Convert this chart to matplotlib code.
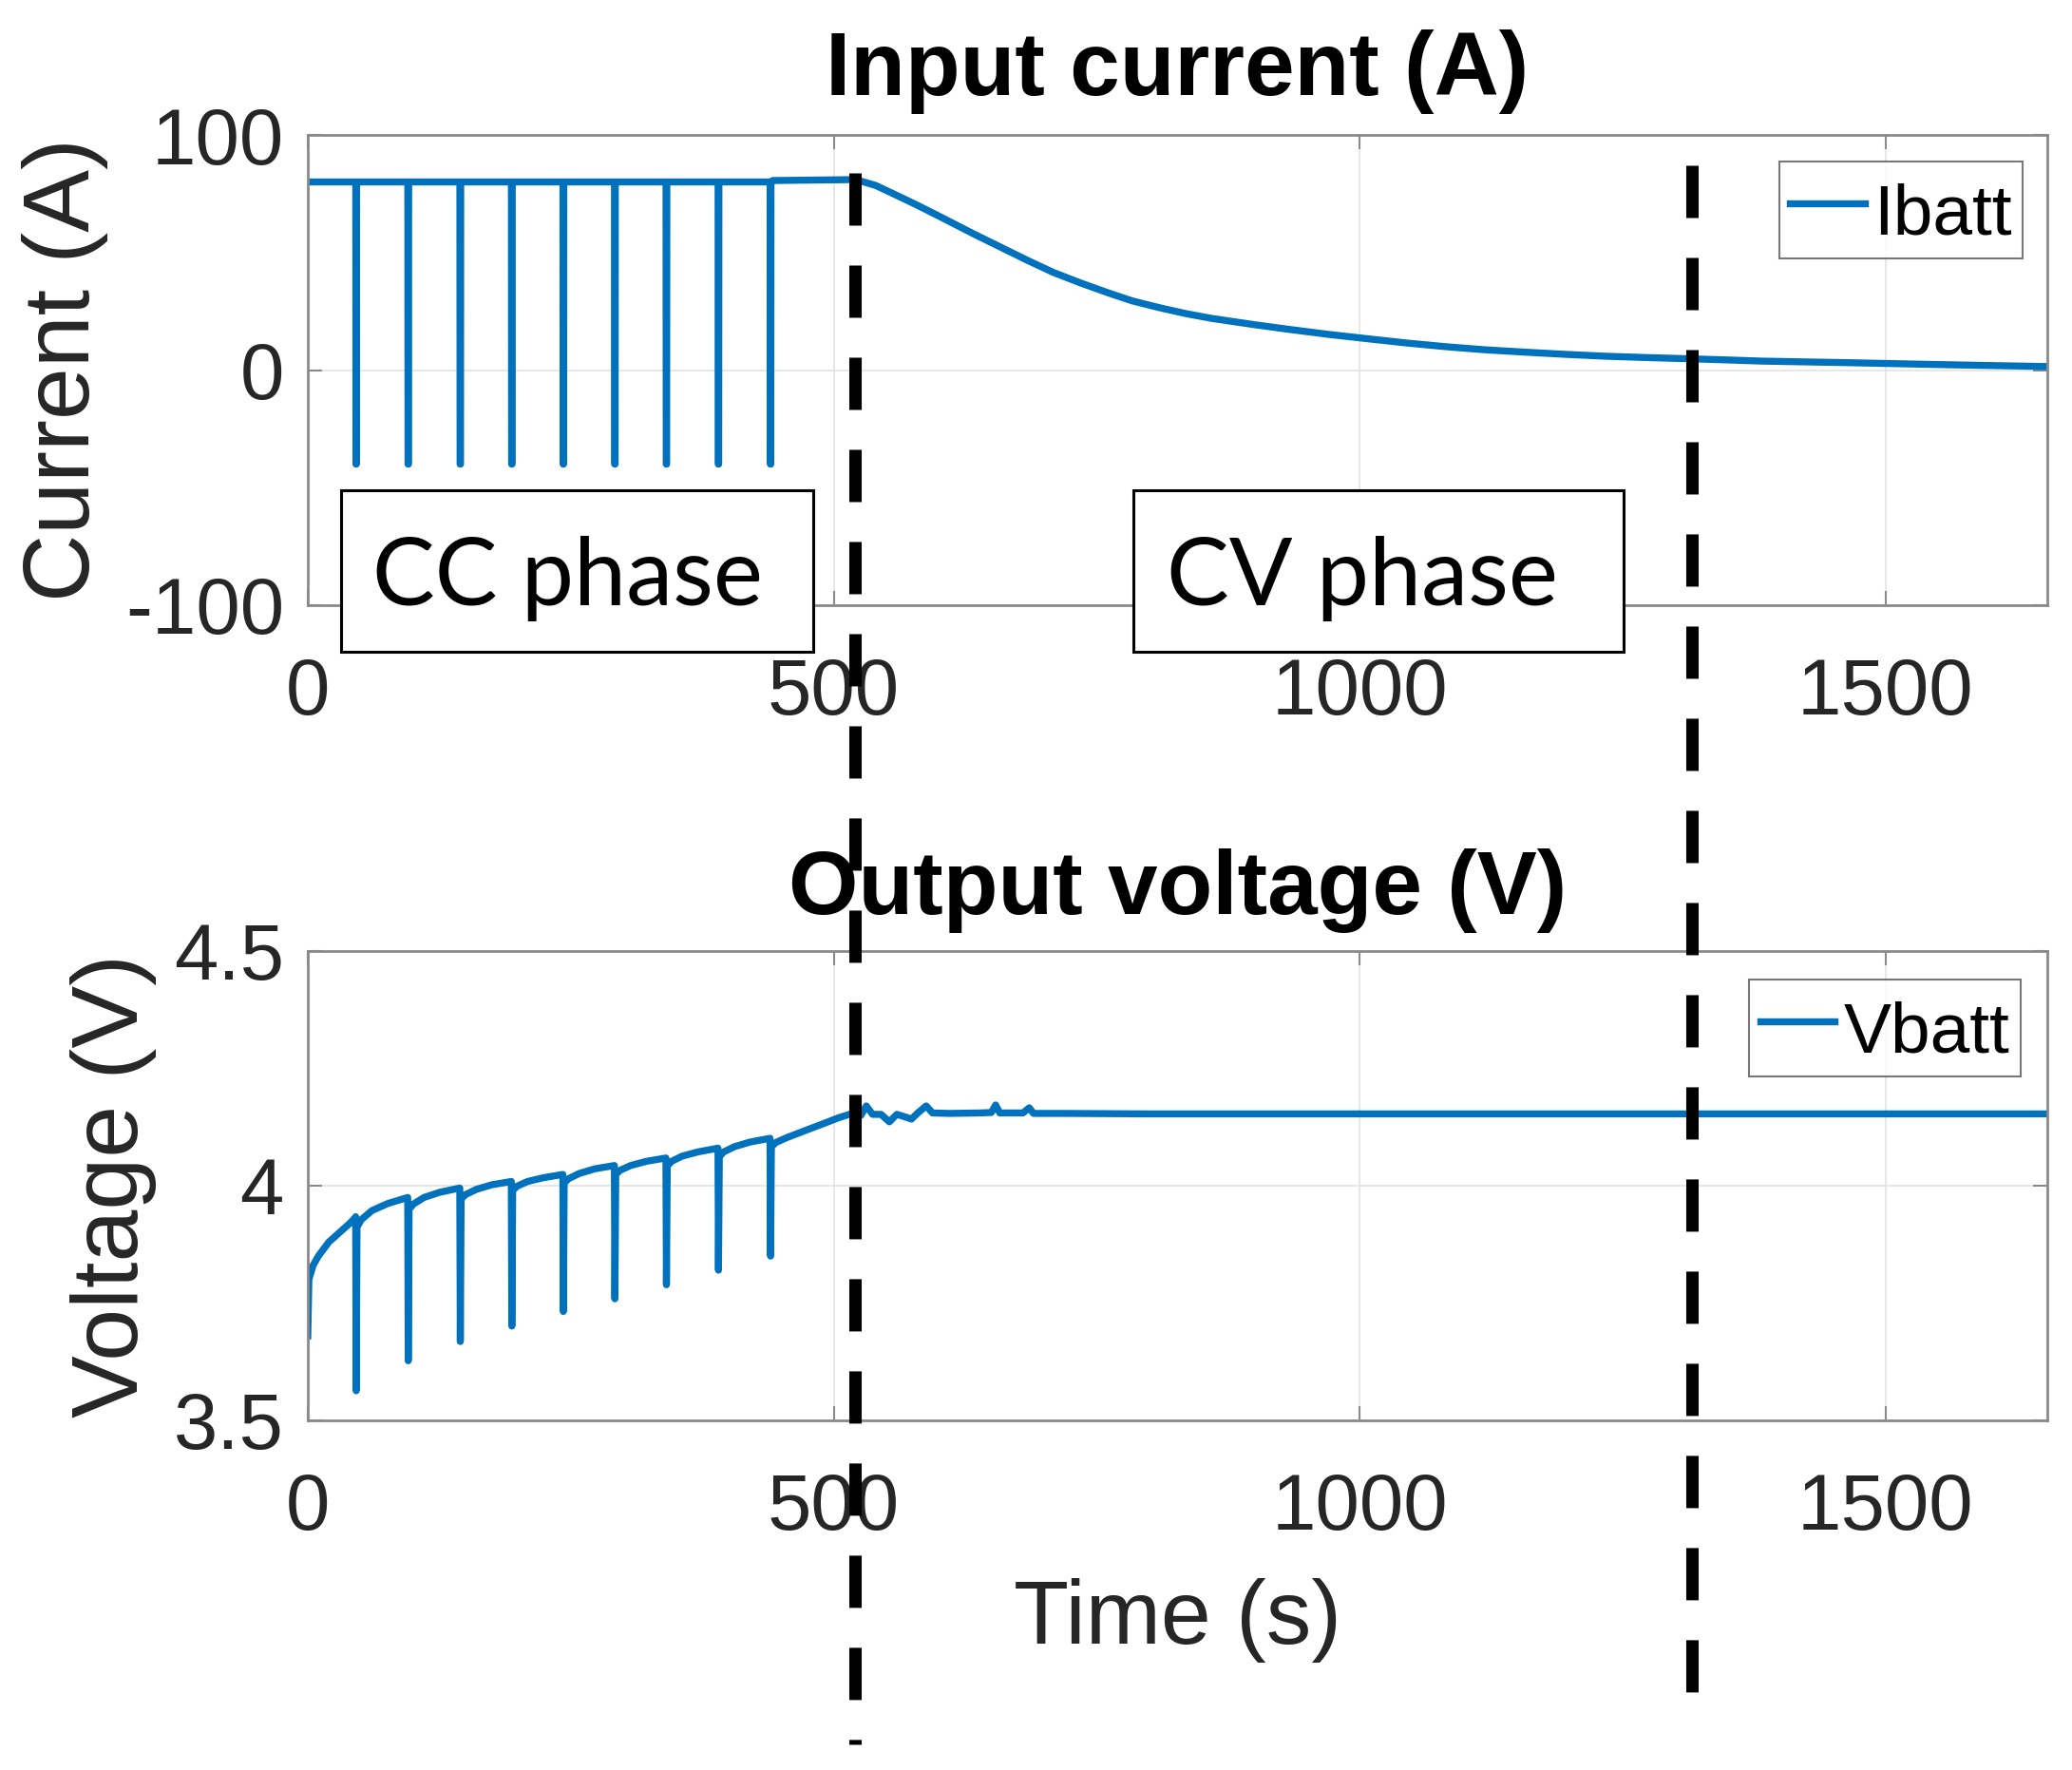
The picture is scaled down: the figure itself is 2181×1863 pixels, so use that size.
import matplotlib
matplotlib.use("Agg")
import matplotlib.pyplot as plt
from matplotlib.transforms import blended_transform_factory
from matplotlib.patches import Rectangle
from matplotlib.lines import Line2D

# ---------------- data ----------------
# current: constant-current plateau with short negative pulses
pulse_times = [46, 95.5, 145, 194, 243, 292, 341, 390.5, 440]
cc_current = 80.0
pulse_current = -40.0
cc_tail_time = [442, 521]
cc_tail_current = [80.6, 81.0]
cv_time = [521, 540, 559, 580, 600, 634, 660, 685, 709, 735, 760, 784, 810, 835, 859,
           900, 933, 970, 1008, 1045, 1083, 1120, 1158, 1195, 1233, 1274, 1314, 1350,
           1383, 1420, 1458, 1495, 1533, 1590, 1654]
cv_current = [81.0, 78.5, 74.5, 70.0, 65.5, 57.7, 52.0, 46.5, 41.5, 37.0, 33.0, 29.4, 26.5,
              24.0, 22.0, 19.3, 17.3, 15.2, 13.3, 11.5, 9.9, 8.6, 7.6, 6.7, 5.9, 5.3, 4.8,
              4.3, 3.8, 3.5, 3.2, 2.85, 2.5, 2.0, 1.5]

# voltage
v_start_time = [0, 1, 5, 10, 20, 30, 40, 45.2]
v_start_val = [3.68, 3.80, 3.83, 3.85, 3.88, 3.90, 3.92, 3.932]
v_peak = [3.934, 3.975, 3.995, 4.009, 4.024, 4.043, 4.059, 4.080, 4.101]
v_min = [3.563, 3.627, 3.668, 3.701, 3.732, 3.759, 3.789, 3.820, 3.850]
v_recover = [3.912, 3.950, 3.972, 3.990, 4.006, 4.024, 4.042, 4.062, 4.083]
# values 5 s, 15 s and 30 s after each pulse (between pulses)
v_after5 = [3.928, 3.961, 3.981, 3.999, 4.015, 4.033, 4.052, 4.072]
v_after15 = [3.947, 3.975, 3.992, 4.009, 4.026, 4.043, 4.063, 4.083]
v_after30 = [3.962, 3.986, 4.002, 4.017, 4.036, 4.052, 4.072, 4.093]
v_tail_time = [445, 455, 470, 490, 505, 515]
v_tail_val = [4.092, 4.102, 4.115, 4.132, 4.145, 4.152]
cv_v_time = [521, 526, 531, 537, 545, 553, 560, 566, 574, 580, 588, 594, 610, 640, 650,
             654, 658, 680, 686, 690, 720, 800, 1000, 1300, 1654]
cv_v_val = [4.157, 4.150, 4.170, 4.152, 4.152, 4.136, 4.152, 4.148, 4.142, 4.155, 4.170,
            4.155, 4.154, 4.155, 4.156, 4.172, 4.155, 4.155, 4.166, 4.154, 4.154, 4.153,
            4.153, 4.153, 4.153]

phase_change_times = [520.3, 1316]

xticks = [0, 500, 1000, 1500]
xtick_labels = ["0", "500", "1000", "1500"]
i_ticks = [-100, 0, 100]
i_tick_labels = ["-100", "0", "100"]
v_ticks = [3.5, 4.0, 4.5]
v_tick_labels = ["3.5", "4", "4.5"]

# ---------------- build series ----------------
t_I = [0]
I = [cc_current]
for tp in pulse_times:
    t_I += [tp - 0.4, tp - 0.2, tp + 0.2, tp + 0.4]
    I += [cc_current, pulse_current, pulse_current, cc_current]
t_I += cc_tail_time + cv_time[1:]
I += cc_tail_current + cv_current[1:]

t_V = list(v_start_time)
V = list(v_start_val)
for k, tp in enumerate(pulse_times):
    t_V += [tp - 0.5, tp, tp + 0.8]
    V += [v_peak[k], v_min[k], v_recover[k]]
    if k < len(v_after5):
        t_V += [tp + 5, tp + 15, tp + 30]
        V += [v_after5[k], v_after15[k], v_after30[k]]
t_V += v_tail_time + cv_v_time
V += v_tail_val + cv_v_val

# ---------------- style ----------------
plt.rcParams["font.family"] = ["Liberation Sans", "DejaVu Sans"]
plt.rcParams["axes.unicode_minus"] = False
plt.rcParams["lines.scale_dashes"] = False

W, H = 2181, 1863
fig = plt.figure(figsize=(W / 100, H / 100), dpi=100)
fig.patch.set_facecolor("white")

LINE_C = "#0072BD"
SPINE_C = "#8a8a8a"
TXT_C = "#262626"
GRID_C = "#e3e3e3"
LW = 5.3


def style_axes(ax, yt, ytl):
    ax.set_xlim(0, 1654)
    ax.set_xticks(xticks)
    ax.set_xticklabels(xtick_labels)
    ax.set_yticks(yt)
    ax.set_yticklabels(ytl)
    ax.grid(True, color=GRID_C, linewidth=1.2)
    ax.set_axisbelow(True)
    for s in ax.spines.values():
        s.set_color(SPINE_C)
        s.set_linewidth(2.0)
    ax.tick_params(axis="both", which="both", direction="in", length=11, width=1.5,
                   color=SPINE_C, labelcolor=TXT_C, labelsize=60,
                   top=True, right=True)
    ax.tick_params(axis="x", pad=39)
    ax.tick_params(axis="y", pad=18)


ax1 = fig.add_axes([324 / W, 1 - 637 / H, 1831 / W, 495 / H])
ax1.plot(t_I, I, color=LINE_C, linewidth=LW, solid_joinstyle="round", label="Ibatt")
ax1.set_ylim(-100, 100)
style_axes(ax1, i_ticks, i_tick_labels)
ax1.set_ylabel("Current (A)", fontsize=71, color=TXT_C, labelpad=13)
ax1.set_title("Input current (A)", fontsize=68, fontweight="bold", color="black", pad=30)

ax2 = fig.add_axes([324 / W, 1 - 1495 / H, 1831 / W, 494 / H])
ax2.plot(t_V, V, color=LINE_C, linewidth=LW, solid_joinstyle="round", label="Vbatt")
ax2.set_ylim(3.5, 4.5)
style_axes(ax2, v_ticks, v_tick_labels)
ax2.set_ylabel("Voltage (V)", fontsize=71, color=TXT_C, labelpad=13)
ax2.set_xlabel("Time (s)", fontsize=68.5, color=TXT_C, labelpad=24)
ax2.set_title("Output voltage (V)", fontsize=68, fontweight="bold", color="black", pad=28)

for ax, anchor in [(ax1, (2129 / W, 1 - 170 / H)), (ax2, (2127 / W, 1 - 1031 / H))]:
    leg = ax.legend(loc="upper right", bbox_to_anchor=anchor, bbox_transform=fig.transFigure,
                    borderaxespad=0, fontsize=54, frameon=True, fancybox=False,
                    borderpad=0.15, handlelength=1.05, handletextpad=0.13,
                    handleheight=1.25)
    leg.get_frame().set_edgecolor("#555555")
    leg.get_frame().set_linewidth(1.5)
    for txt in leg.get_texts():
        txt.set_color("black")

# phase boxes
for (x0, x1, label, cx) in [(359, 856, "CC phase", 597), (1193, 1709, "CV phase", 1434)]:
    rect = Rectangle((x0 / W, 1 - 686 / H), (x1 - x0) / W, 170 / H, transform=fig.transFigure,
                     facecolor="white", edgecolor="black", linewidth=2.2, zorder=10)
    fig.add_artist(rect)
    fig.text(cx / W, 1 - 637 / H, label, fontsize=71, family=["Lato", "DejaVu Sans"],
             ha="center", va="baseline", color="black", zorder=11)

# dashed phase-change markers spanning both panels
trans = blended_transform_factory(ax1.transData, fig.transFigure)
for tx, (ytop, ybot) in zip(phase_change_times, [(182, 1836), (174, 1781)]):
    ln = Line2D([tx, tx], [1 - ytop / H, 1 - ybot / H], transform=trans, color="black",
                linewidth=9.4, linestyle=(0, (55 / 1.389, 42 / 1.389)),
                dash_capstyle="butt", zorder=20)
    fig.add_artist(ln)

fig.savefig("out.png", dpi=100, facecolor="white")
